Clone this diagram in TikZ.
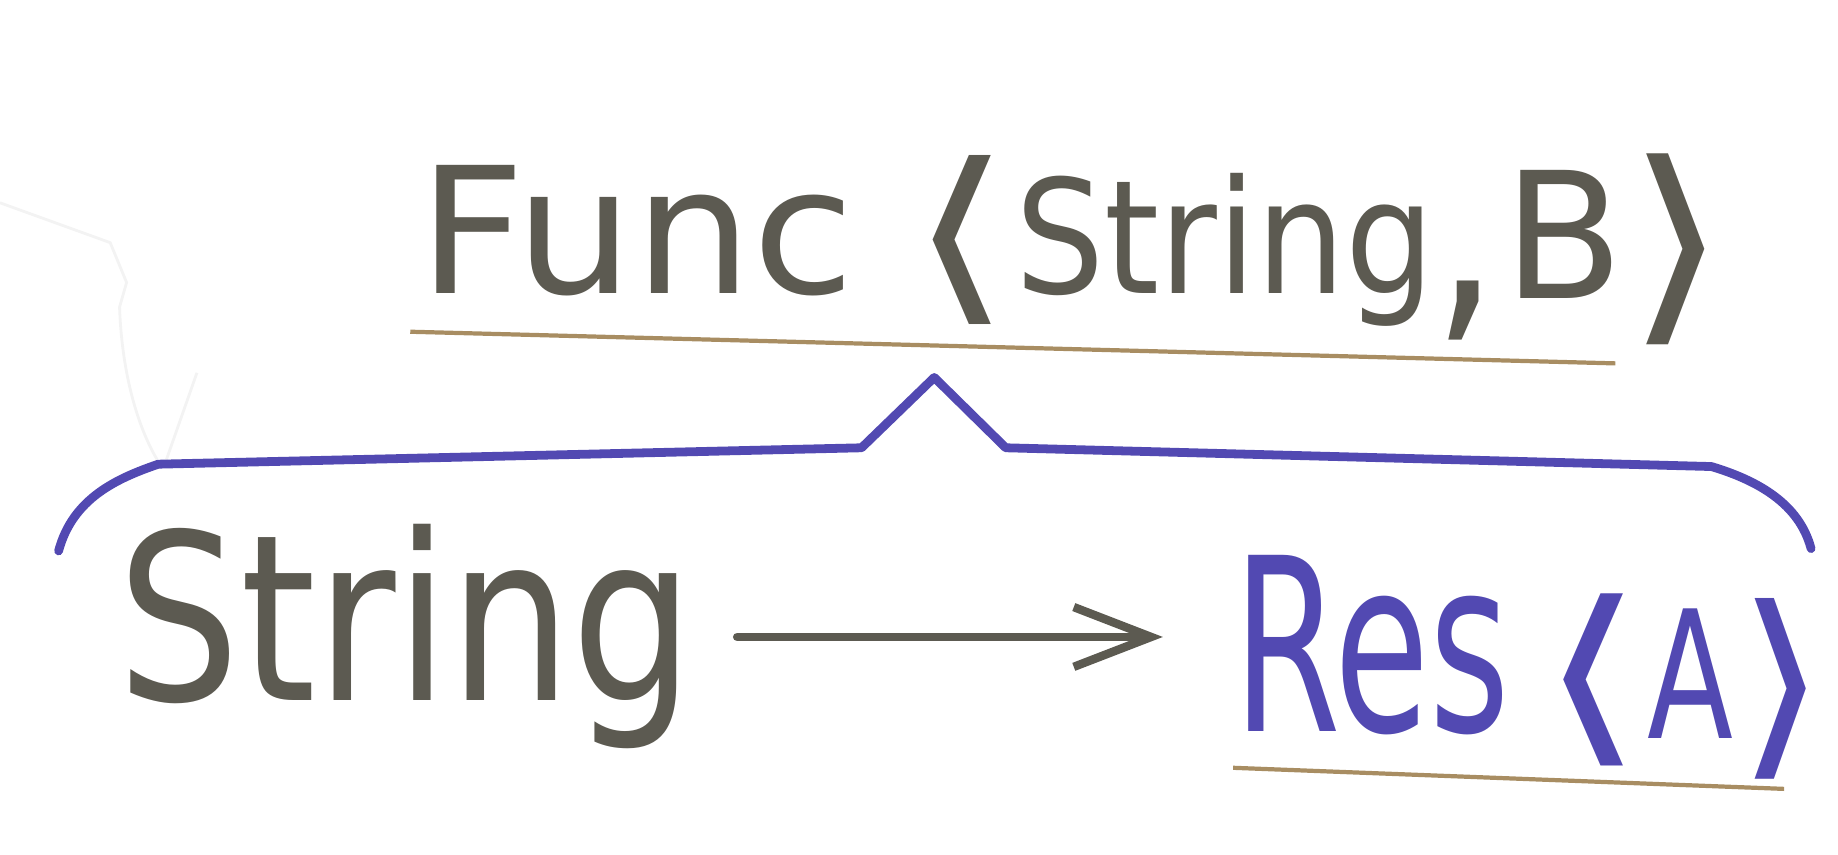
\documentclass[tikz,border=0pt]{standalone}
\usepackage{fontspec}
\setmainfont{DejaVu Sans}
\usetikzlibrary{arrows.meta}
\definecolor{inkGray}{HTML}{5C5A51}
\definecolor{inkPurple}{HTML}{5249B2}
\definecolor{inkTan}{HTML}{A88D62}
\definecolor{inkFaint}{HTML}{F3F3F3}
\tikzset{
  title/.style={text=inkGray, inner sep=0pt, font=\fontsize{100}{110}\selectfont},
  big/.style={inner sep=0pt, font=\fontsize{110}{120}\selectfont},
  flow/.style={-{Straight Barb[length=44pt, width=34pt]}, line width=4.8pt,
               draw=inkGray, line cap=round, line join=round},
  brace/.style={draw=inkPurple, line width=5pt, line cap=round, line join=round},
  rule/.style={draw=inkTan, line width=2.4pt},
  faint/.style={draw=inkFaint, line width=1.6pt},
}

\begin{document}
\begin{tikzpicture}[x=0.02344cm, y=-0.02344cm]
  \useasboundingbox (0,0) rectangle (1568,729);

  % pencil marks at the left
  \draw[faint] (0,173) -- (94,207) -- (108,241) -- (102,262)
    .. controls (104,320) and (118,365) .. (134,392);
  \draw[faint] (168,318) -- (142,392);

  % Func<String, B>
  \node[title, anchor=base west] (func) at (357,250) {\scalebox{1.06}[1]{Func}};
  \node[title] (lt) at (820,205) {\scalebox{1.5}[1.08]{⟨}};
  \node[title, anchor=base west] (str) at (866,250) {\scalebox{0.8}[0.9]{String}};
  \node[title, anchor=base west] (comma) at (1222,266) {\scalebox{1.2}[1.4]{,}};
  \node[title, anchor=base west] (b) at (1282,255) {B};
  \node[title] (gt) at (1431,213) {\scalebox{1.5}[1.22]{⟩}};
  \draw[rule] (350,283) -- (1378,310);

  % brace
  \draw[brace] (50,470) .. controls (62,425) and (100,408) .. (135,396)
    -- (735,382) -- (797,322) -- (858,382) -- (1460,398)
    .. controls (1500,410) and (1535,430) .. (1545,468);

  % String -> Res<A>
  \node[big, text=inkGray, anchor=base west] (strB) at (100,598) {\scalebox{1}[1.2]{String}};
  \node[big, text=inkPurple, anchor=base west] (res) at (1052,624) {\scalebox{0.8}[1.25]{Res}};
  \node[big, text=inkPurple] (lt2) at (1358,580) {\scalebox{1.4}[1]{⟨}};
  \node[big, text=inkPurple, anchor=base west] (a) at (1405,630) {\scalebox{0.65}[0.92]{A}};
  \node[big, text=inkPurple] (gt2) at (1520,588) {\scalebox{1.2}[1.05]{⟩}};
  \draw[rule] (1052,655) -- (1522,673);

  \draw[flow] ([xshift=24pt]strB.east) -- ([xshift=-40pt]strB.east -| res.west);
\end{tikzpicture}
\end{document}
